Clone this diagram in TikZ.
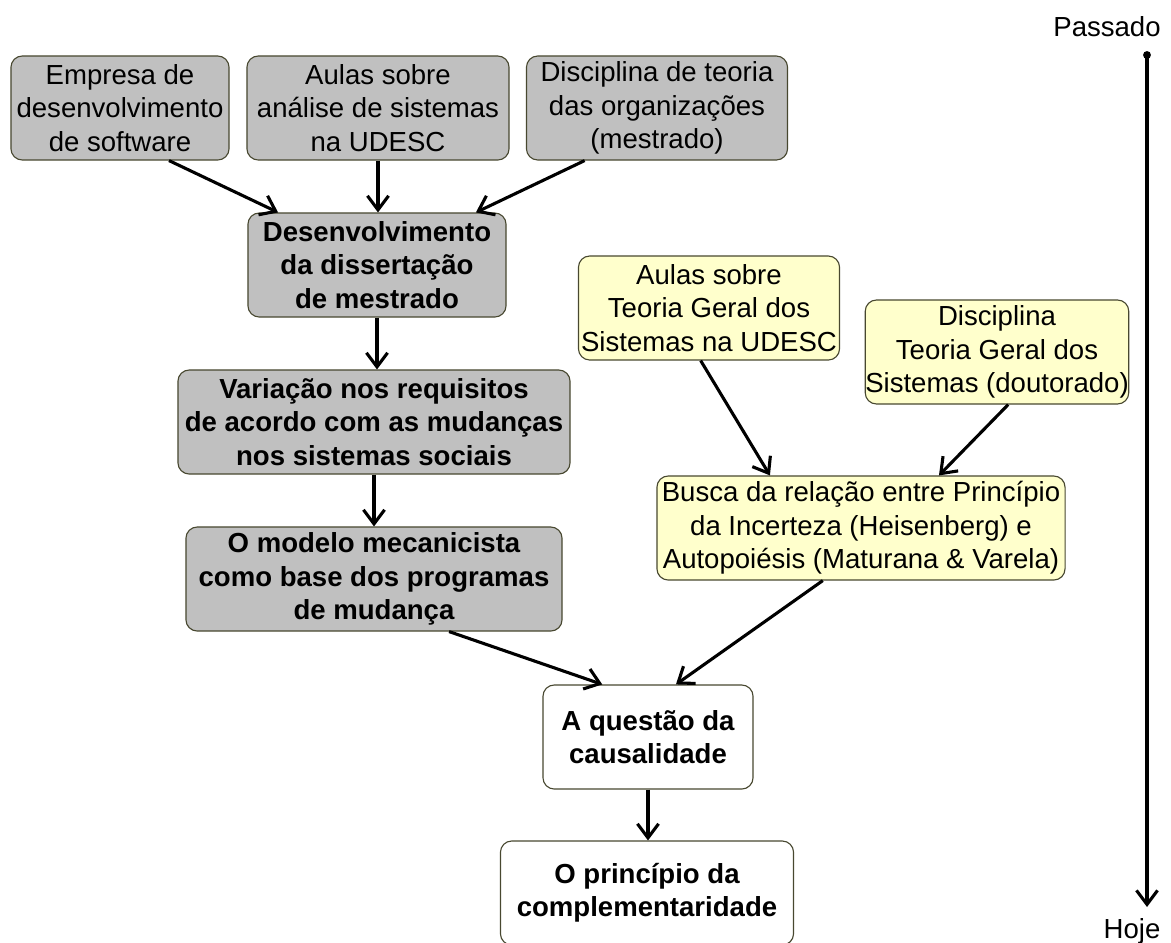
\documentclass[tikz,border=0pt]{standalone}
\usepackage{fontspec}
\setmainfont{Liberation Sans}
\usetikzlibrary{arrows.meta}
\definecolor{boxgray}{RGB}{192,192,192}
\definecolor{boxyellow}{RGB}{255,255,204}
\definecolor{boxline}{RGB}{72,72,48}

\begin{document}
\begin{tikzpicture}[x=0.025cm, y=-0.025cm,
  box/.style={draw=boxline, line width=0.8pt, rounded corners=8pt, inner sep=0pt, align=center, minimum height=2.6cm, font=\fontsize{19.6}{23.8}\selectfont},
  greybox/.style={box, fill=boxgray},
  yellowbox/.style={box, fill=boxyellow},
  whitebox/.style={box, fill=white},
  link/.style={line width=2.2pt, -{Straight Barb[length=10pt,width=15pt]}}]
\useasboundingbox (0,0) rectangle (1171,942);

\node[greybox, minimum width=5.45cm] (emp) at (120,108) {Empresa de\\desenvolvimento\\de software};
\node[greybox, minimum width=6.55cm] (aulas) at (378,108) {Aulas sobre\\análise de sistemas\\na UDESC};
\node[greybox, minimum width=6.525cm] (disc) at (657,108) {Disciplina de teoria\\das organizações\\(mestrado)};
\node[greybox, minimum width=6.45cm, font=\fontsize{19.6}{23.8}\selectfont\bfseries] (dev) at (377,265) {Desenvolvimento\\da dissertação\\de mestrado};
\node[greybox, minimum width=9.8cm, font=\fontsize{19.6}{23.8}\selectfont\bfseries] (var) at (374,422) {Variação nos requisitos\\de acordo com as mudanças\\nos sistemas sociais};
\node[greybox, minimum width=9.4cm, font=\fontsize{19.6}{23.8}\selectfont\bfseries] (mod) at (374,579) {O modelo mecanicista\\como base dos programas\\de mudança};
\node[yellowbox, minimum width=6.525cm] (tgs) at (709,308) {Aulas sobre\\Teoria Geral dos\\Sistemas na UDESC};
\node[yellowbox, minimum width=6.55cm] (tgsd) at (997,352) {Disciplina\\Teoria Geral dos\\Sistemas (doutorado)};
\node[yellowbox, minimum width=10.2cm] (busca) at (861,528) {Busca da relação entre Princípio\\da Incerteza (Heisenberg) e\\Autopoiésis (Maturana \& Varela)};
\node[whitebox, minimum width=5.25cm, font=\fontsize{19.6}{23.8}\selectfont\bfseries] (caus) at (648,737) {A questão da\\causalidade};
\node[whitebox, minimum width=7.325cm, font=\fontsize{19.6}{23.8}\selectfont\bfseries] (comp) at (647,893) {O princípio da\\complementaridade};

\node[font=\fontsize{19.6}{23.8}\selectfont] (past) at (1107,27) {Passado};
\node[font=\fontsize{19.6}{23.8}\selectfont] (today) at (1132,931) {Hoje};
\coordinate (start) at (1147,55);
\coordinate (end) at (1147,907);

\draw[link] (emp.-47) -- (dev.152);
\draw[link] (aulas.south) -- (aulas.south |- dev.north);
\draw[link] (disc.-144) -- (dev.28);
\draw[link] (dev.south) -- (dev.south |- var.north);
\draw[link] (var.south) -- (var.south |- mod.north);
\draw[link] (mod.-35) -- (caus.131);
\draw[link] (tgs.-99) -- (busca.150);
\draw[link] (tgsd.-78) -- (busca.34);
\draw[link] (busca.-126) -- (caus.62);
\draw[link] (caus.south) -- (caus.south |- comp.north);
\fill (start) circle[radius=2.8pt];
\draw[link] (start) -- (end);
\end{tikzpicture}
\end{document}
